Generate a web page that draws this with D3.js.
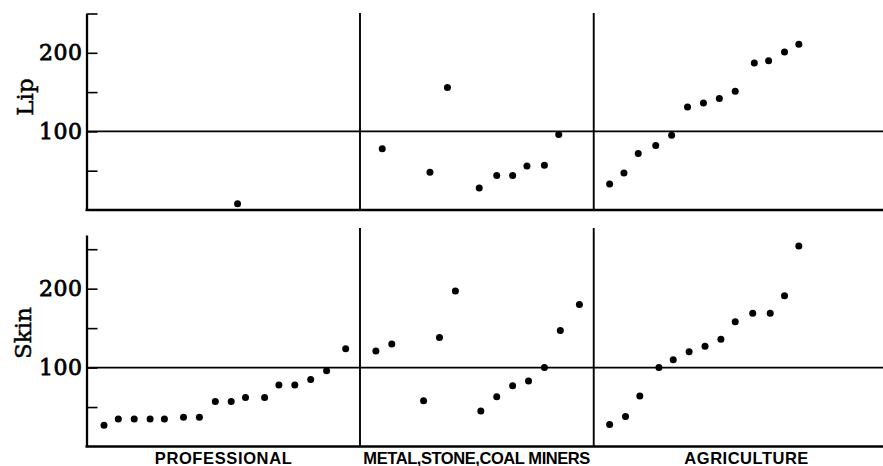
<!DOCTYPE html>
<html>
<head>
<meta charset="utf-8">
<script src="https://cdn.jsdelivr.net/npm/d3@7"></script>
<style>
body{margin:0;background:#fff;}
</style>
</head>
<body>
<div id="chart"></div>
<script>
var categories = ["PROFESSIONAL", "METAL,STONE,COAL MINERS", "AGRICULTURE"];
var panelNames = ["Lip", "Skin"];
var tickValues = [50, 100, 150, 200, 250];
var labelledTicks = [100, 200];
// category edges, in slot units (one slot per occupational group)
var groupEdges = [-1.1, 16.1, 30.8, 50];

// Lip: slot position and value of each dot
var lipSlots = [8.4,
    17.5, 20.5, 21.6, 23.6, 24.7, 25.7, 26.6, 27.7, 28.6,
    31.8, 32.7, 33.6, 34.7, 35.7, 36.7, 37.7, 38.7, 39.7, 40.9, 41.8, 42.8, 43.7];
var lipValues = [8,
    78, 48, 156, 28, 44, 44, 56, 57, 96,
    33, 47, 72, 82, 95, 131, 136, 142, 151, 187, 190, 201, 211];

// Skin
var skinSlots = [0, 0.9, 1.9, 2.9, 3.8, 5.0, 6.0, 7.0, 8.0, 8.9, 10.1, 11.0, 12.0, 13.0, 14.0, 15.2,
    17.1, 18.1, 20.1, 21.1, 22.1, 23.7, 24.7, 25.7, 26.7, 27.7, 28.7, 29.9,
    31.8, 32.8, 33.7, 34.9, 35.8, 36.8, 37.8, 38.8, 39.7, 40.8, 41.9, 42.8, 43.7];
var skinValues = [27, 35, 35, 35, 35, 37, 37, 57, 57, 62, 62, 78, 78, 85, 96, 124,
    121, 130, 58, 138, 197, 45, 63, 77, 83, 100, 147, 180,
    28, 38, 64, 100, 110, 120, 127, 136, 158, 169, 169, 191, 254];

var width = 883, height = 466;
var svg = d3.select('#chart').append('svg')
    .attr('width', width).attr('height', height);

var x = d3.scaleLinear().domain([0, 15]).range([104, 342.5]);
var right = 883;

var panels = [
    {name: panelNames[0], slots: lipSlots, values: lipValues,
     y: d3.scaleLinear().domain([0, 250]).range([210, 13.5]),
     divTop: 13, labelY: 97, labelX: 25},
    {name: panelNames[1], slots: skinSlots, values: skinValues,
     y: d3.scaleLinear().domain([0, 268]).range([446.5, 235]),
     divTop: 228, labelY: 333, labelX: 23}
];

panels.forEach(function(p){
    var g = svg.append('g');
    var y0 = p.y(0);

    // dividers between categories
    g.selectAll('line.div')
        .data(groupEdges.slice(1, 3))
        .enter().append('line').attr('class', 'div')
        .attr('x1', function(d){ return x(d); })
        .attr('x2', function(d){ return x(d); })
        .attr('y1', p.divTop).attr('y2', y0)
        .attr('stroke', '#000').attr('stroke-width', 1.9);

    // reference line at 100
    g.append('line')
        .attr('x1', x(groupEdges[0])).attr('x2', right)
        .attr('y1', p.y(100)).attr('y2', p.y(100))
        .attr('stroke', '#000').attr('stroke-width', 1.7);

    // baseline
    g.append('line')
        .attr('x1', x(groupEdges[0]) - 1).attr('x2', right)
        .attr('y1', y0).attr('y2', y0)
        .attr('stroke', '#000').attr('stroke-width', 2.5);

    // y axis
    var axis = d3.axisLeft(p.y)
        .tickValues(tickValues)
        .tickSizeInner(-11).tickSizeOuter(0).tickPadding(4)
        .tickFormat(function(d){ return labelledTicks.indexOf(d) >= 0 ? d : ''; });
    var ag = g.append('g')
        .attr('transform', 'translate(' + x(groupEdges[0]) + ',0)')
        .call(axis);
    ag.select('.domain').attr('stroke-width', 2.3);
    ag.selectAll('.tick line').attr('stroke-width', 1.6);
    ag.selectAll('.tick text')
        .attr('font-family', 'DejaVu Serif').attr('font-size', 22)
        .attr('fill', '#000').attr('stroke', '#000').attr('stroke-width', 0.8)
        .attr('letter-spacing', 0.5);

    // panel title
    g.append('text')
        .attr('transform', 'translate(' + p.labelX + ',' + p.labelY + ') rotate(-90)')
        .attr('text-anchor', 'middle').attr('dy', '0.35em')
        .attr('font-family', 'DejaVu Serif').attr('font-size', 23)
        .attr('stroke', '#000').attr('stroke-width', 0.5)
        .text(p.name);

    // dots
    g.selectAll('circle')
        .data(p.values)
        .enter().append('circle')
        .attr('cx', function(d, i){ return x(p.slots[i]); })
        .attr('cy', function(d){ return p.y(d); })
        .attr('r', 3.5)
        .attr('fill', '#000');
});

// category names under the lower panel
var labelWidths = [137, 227, 124];
svg.selectAll('text.cat')
    .data(categories)
    .enter().append('text').attr('class', 'cat')
    .attr('x', function(d, i){ return x((groupEdges[i] + groupEdges[i + 1]) / 2); })
    .attr('y', 464)
    .attr('text-anchor', 'middle')
    .attr('font-family', 'Liberation Sans').attr('font-weight', 'bold').attr('font-size', 16.5)
    .attr('textLength', function(d, i){ return labelWidths[i]; })
    .attr('lengthAdjust', 'spacing')
    .text(function(d){ return d; });
</script>
</body>
</html>
